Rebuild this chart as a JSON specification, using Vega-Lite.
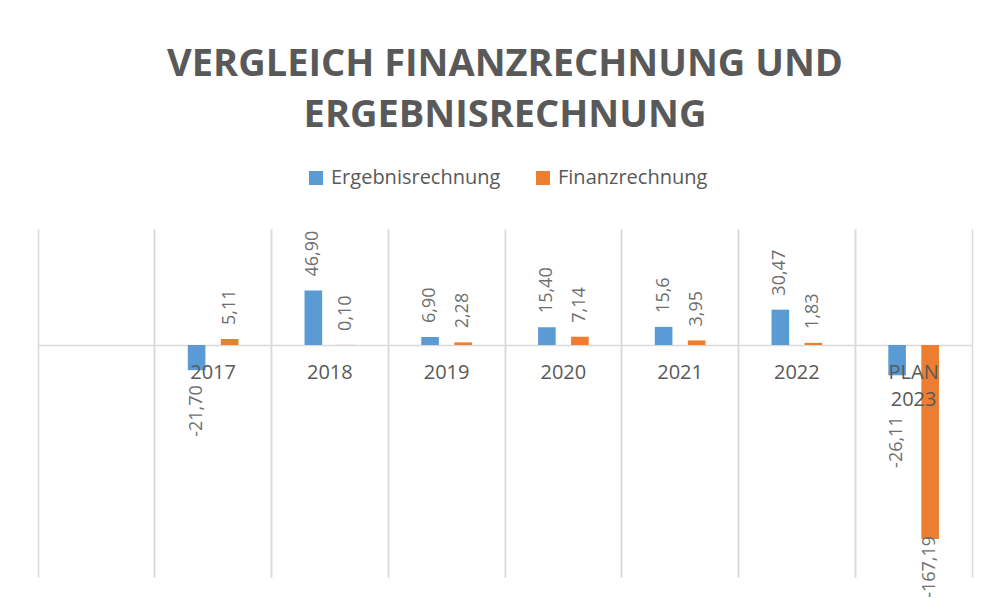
{
  "$schema": "https://vega.github.io/schema/vega-lite/v6.json",
  "width": 934,
  "height": 348,
  "autosize": {"type": "none"},
  "padding": {"left": 38, "top": 229, "right": 18, "bottom": 22},
  "background": "white",
  "config": {"view": {"stroke": null}, "font": "Open Sans"},
  "title": {
    "text": ["VERGLEICH FINANZRECHNUNG UND", "ERGEBNISRECHNUNG"],
    "font": "Open Sans",
    "fontSize": 38,
    "fontWeight": "bold",
    "color": "#595959",
    "anchor": "middle",
    "lineHeight": 51,
    "offset": 33
  },
  "data": {
    "values": [
      {"Jahr": "2017", "Reihe": "Ergebnisrechnung", "Wert": -21.70, "Beschriftung": "-21,70"},
      {"Jahr": "2017", "Reihe": "Finanzrechnung", "Wert": 5.11, "Beschriftung": "5,11"},
      {"Jahr": "2018", "Reihe": "Ergebnisrechnung", "Wert": 46.90, "Beschriftung": "46,90"},
      {"Jahr": "2018", "Reihe": "Finanzrechnung", "Wert": 0.10, "Beschriftung": "0,10"},
      {"Jahr": "2019", "Reihe": "Ergebnisrechnung", "Wert": 6.90, "Beschriftung": "6,90"},
      {"Jahr": "2019", "Reihe": "Finanzrechnung", "Wert": 2.28, "Beschriftung": "2,28"},
      {"Jahr": "2020", "Reihe": "Ergebnisrechnung", "Wert": 15.40, "Beschriftung": "15,40"},
      {"Jahr": "2020", "Reihe": "Finanzrechnung", "Wert": 7.14, "Beschriftung": "7,14"},
      {"Jahr": "2021", "Reihe": "Ergebnisrechnung", "Wert": 15.6, "Beschriftung": "15,6"},
      {"Jahr": "2021", "Reihe": "Finanzrechnung", "Wert": 3.95, "Beschriftung": "3,95"},
      {"Jahr": "2022", "Reihe": "Ergebnisrechnung", "Wert": 30.47, "Beschriftung": "30,47"},
      {"Jahr": "2022", "Reihe": "Finanzrechnung", "Wert": 1.83, "Beschriftung": "1,83"},
      {"Jahr": "PLAN 2023", "Reihe": "Ergebnisrechnung", "Wert": -26.11, "Beschriftung": "-26,11"},
      {"Jahr": "PLAN 2023", "Reihe": "Finanzrechnung", "Wert": -167.19, "Beschriftung": "-167,19"}
    ]
  },
  "resolve": {"scale": {"x": "shared", "y": "shared"}, "axis": {"x": "independent"}},
  "layer": [
    {
      "mark": {"type": "bar"},
      "encoding": {
        "x": {
          "field": "Jahr",
          "type": "nominal",
          "sort": null,
          "scale": {"domain": [" ", "2017", "2018", "2019", "2020", "2021", "2022", "PLAN 2023"], "paddingInner": 0, "paddingOuter": 0},
          "axis": {
            "orient": "bottom",
            "offset": -232,
            "zindex": 1,
            "domain": false,
            "ticks": false,
            "grid": true,
            "gridColor": "#d9d9d9",
            "gridWidth": 1.5,
            "bandPosition": 0,
            "title": null,
            "labelAngle": 0,
            "labelExpr": "split(datum.label, ' ')",
            "labelFont": "Open Sans",
            "labelFontSize": 20,
            "labelColor": "#595959",
            "labelLineHeight": 27,
            "labelPadding": 17
          }
        },
        "xOffset": {"field": "Reihe", "type": "nominal", "scale": {"paddingInner": 0.467, "paddingOuter": 1.183}},
        "y": {
          "field": "Wert",
          "type": "quantitative",
          "scale": {"domain": [-200, 100], "nice": false, "zero": true},
          "axis": {"domain": false, "ticks": false, "labels": false, "title": null, "grid": true, "values": [0], "gridColor": "#d9d9d9", "gridWidth": 1.5}
        },
        "color": {
          "field": "Reihe",
          "type": "nominal",
          "scale": {"domain": ["Ergebnisrechnung", "Finanzrechnung"], "range": ["#5b9bd5", "#ed7d31"]},
          "legend": {
            "orient": "none",
            "direction": "horizontal",
            "legendX": 268,
            "legendY": -61,
            "padding": 0,
            "title": null,
            "symbolType": "square",
            "symbolSize": 196,
            "symbolStrokeWidth": 0,
            "labelFont": "Open Sans",
            "labelFontSize": 20,
            "labelColor": "#595959",
            "labelLimit": 0,
            "labelOffset": 5,
            "columnPadding": 32
          }
        }
      }
    },
    {
      "transform": [{"filter": "datum.Wert >= 0"}],
      "mark": {"type": "text", "angle": 270, "align": "left", "baseline": "middle", "dx": 14, "font": "Open Sans", "fontSize": 18, "color": "#6f6f6f"},
      "encoding": {
        "x": {
          "field": "Jahr",
          "type": "nominal",
          "sort": null,
          "axis": {"orient": "top", "labels": false, "ticks": false, "domain": false, "title": null, "grid": true, "gridColor": "#d9d9d9", "gridWidth": 1.5, "bandPosition": 1}
        },
        "xOffset": {"field": "Reihe", "type": "nominal"},
        "y": {"field": "Wert", "type": "quantitative"},
        "text": {"field": "Beschriftung", "type": "nominal"}
      }
    },
    {
      "transform": [{"filter": "datum.Wert < 0 && datum.Jahr != 'PLAN 2023'"}],
      "mark": {"type": "text", "angle": 270, "align": "right", "baseline": "middle", "dx": -15, "font": "Open Sans", "fontSize": 18, "color": "#6f6f6f"},
      "encoding": {
        "x": {"field": "Jahr", "type": "nominal", "sort": null, "axis": null},
        "xOffset": {"field": "Reihe", "type": "nominal"},
        "y": {"field": "Wert", "type": "quantitative"},
        "text": {"field": "Beschriftung", "type": "nominal"}
      }
    },
    {
      "transform": [{"filter": "datum.Jahr == 'PLAN 2023' && datum.Reihe == 'Ergebnisrechnung'"}],
      "mark": {"type": "text", "angle": 270, "align": "right", "baseline": "middle", "dx": -41, "font": "Open Sans", "fontSize": 18, "color": "#6f6f6f"},
      "encoding": {
        "x": {"field": "Jahr", "type": "nominal", "sort": null, "axis": null},
        "xOffset": {"field": "Reihe", "type": "nominal"},
        "y": {"field": "Wert", "type": "quantitative"},
        "text": {"field": "Beschriftung", "type": "nominal"}
      }
    },
    {
      "transform": [{"filter": "datum.Jahr == 'PLAN 2023' && datum.Reihe == 'Finanzrechnung'"}],
      "mark": {"type": "text", "angle": 270, "align": "right", "baseline": "middle", "dx": 3, "font": "Open Sans", "fontSize": 18, "color": "#6f6f6f"},
      "encoding": {
        "x": {"field": "Jahr", "type": "nominal", "sort": null, "axis": null},
        "xOffset": {"field": "Reihe", "type": "nominal"},
        "y": {"field": "Wert", "type": "quantitative"},
        "text": {"field": "Beschriftung", "type": "nominal"}
      }
    }
  ]
}
